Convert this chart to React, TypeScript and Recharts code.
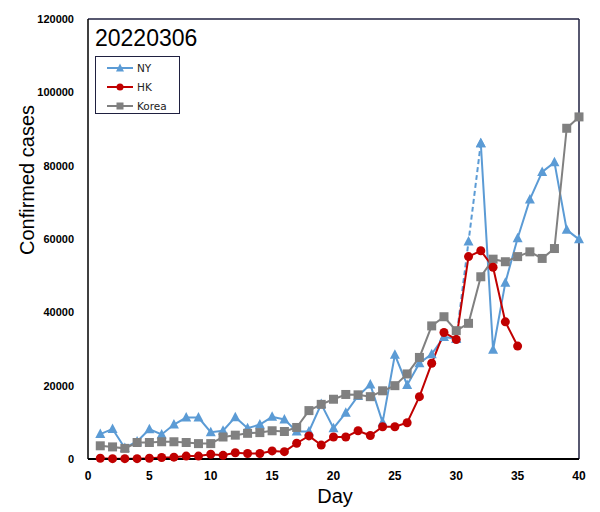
import React from 'react';
import { LineChart, Line, XAxis, YAxis, ReferenceLine } from 'recharts';

const days = [
  1, 2, 3, 4, 5, 6, 7, 8, 9, 10, 11, 12, 13, 14, 15, 16, 17, 18, 19, 20,
  21, 22, 23, 24, 25, 26, 27, 28, 29, 30, 31, 32, 33, 34, 35, 36, 37, 38, 39, 40,
];

// NY: day 31 is only reached by the dashed segment
const nyCases = [
  6800, 8200, 3000, 4800, 8100, 6700, 9400, 11300, 11300, 7300,
  7700, 11400, 8400, 9400, 11500, 10800, 7500, 7500, 15000, 8400,
  12600, 17200, 20300, 10000, 28400, 20200, 26100, 28600, 33300, 32800,
  null, 86100, 29800, 48100, 60200, 70800, 78300, 80900, 62500, 59900,
];
const nyDashed = [
  null, null, null, null, null, null, null, null, null, null,
  null, null, null, null, null, null, null, null, null, null,
  null, null, null, null, null, null, null, null, null, 32800,
  59300, 86100, null, null, null, null, null, null, null, null,
];
const hkCases = [
  200, 100, 100, 100, 200, 400, 500, 800, 800, 1300,
  1000, 1700, 1500, 1500, 2200, 2000, 4300, 6300, 3800, 6000,
  6000, 7700, 6400, 8800, 8800, 9900, 17000, 26100, 34500, 32600,
  55200, 56800, 52300, 37400, 30800, null, null, null, null, null,
];
const koreaCases = [
  3600, 3300, 2900, 4500, 4500, 4700, 4700, 4500, 4200, 4200,
  6000, 6500, 7000, 7200, 7700, 7500, 8600, 13200, 14900, 16300,
  17600, 17500, 17000, 18600, 20000, 23200, 27700, 36300, 38800, 35000,
  37000, 49700, 54500, 53800, 55200, 56500, 54700, 57400, 90200, 93300,
];

const xTicks = [0, 5, 10, 15, 20, 25, 30, 35, 40];
const yTicks = [0, 20000, 40000, 60000, 80000, 100000, 120000];

const NY_COLOR = '#5B9BD5';
const HK_COLOR = '#C00000';
const KOREA_COLOR = '#808080';
const FONT = 'Liberation Sans, Arial, sans-serif';

const data = days.map((d, i) => ({
  day: d,
  ny: nyCases[i],
  nyDash: nyDashed[i],
  hk: hkCases[i],
  korea: koreaCases[i],
}));

const Triangle = (props: any) => {
  const { cx, cy, key } = props;
  if (cx == null || cy == null || props.value == null) return <g key={key} />;
  return (
    <polygon
      key={key}
      points={`${cx},${cy - 5.5} ${cx - 5},${cy + 4} ${cx + 5},${cy + 4}`}
      fill={NY_COLOR}
    />
  );
};

const Circle = (props: any) => {
  const { cx, cy, key } = props;
  if (cx == null || cy == null || props.value == null) return <g key={key} />;
  return <circle key={key} cx={cx} cy={cy} r={4.5} fill={HK_COLOR} />;
};

const Square = (props: any) => {
  const { cx, cy, key } = props;
  if (cx == null || cy == null || props.value == null) return <g key={key} />;
  return <rect key={key} x={cx - 4.5} y={cy - 4.5} width={9} height={9} fill={KOREA_COLOR} />;
};

const legendItems = [
  { name: 'NY', color: NY_COLOR, shape: 'tri' },
  { name: 'HK', color: HK_COLOR, shape: 'circle' },
  { name: 'Korea', color: KOREA_COLOR, shape: 'square' },
];

const LegendBox = () => (
  <div
    style={{
      position: 'absolute',
      left: 95,
      top: 56,
      width: 85,
      height: 58,
      border: '1px solid #1f2040',
      background: '#fff',
      boxSizing: 'border-box',
      paddingTop: 1,
    }}
  >
    {legendItems.map((it) => (
      <div key={it.name} style={{ display: 'flex', alignItems: 'center', height: 19 }}>
        <svg width={41} height={12} style={{ display: 'block' }}>
          <line x1={11} y1={6} x2={37} y2={6} stroke={it.color} strokeWidth={2} />
          {it.shape === 'tri' && <polygon points="24,1.5 20,9.5 28,9.5" fill={it.color} />}
          {it.shape === 'circle' && <circle cx={24} cy={6} r={3.5} fill={it.color} />}
          {it.shape === 'square' && <rect x={20.5} y={2.5} width={7} height={7} fill={it.color} />}
        </svg>
        <span style={{ fontFamily: 'DejaVu Sans, sans-serif', fontSize: 10.5, lineHeight: '12px', color: '#222' }}>
          {it.name}
        </span>
      </div>
    ))}
  </div>
);

const App = () => {
  return (
    <div style={{ position: 'absolute', left: 0, top: 0, width: 600, height: 512, background: '#fff' }}>
      <LineChart
        width={600}
        height={512}
        data={data}
        margin={{ top: 19, right: 21, bottom: 23, left: 0 }}
      >
        <XAxis
          dataKey="day"
          type="number"
          domain={[0, 40]}
          ticks={xTicks}
          tickLine={false}
          axisLine={{ stroke: '#000', strokeWidth: 2 }}
          tick={{ fontSize: 12, fill: '#000', fontWeight: 'bold', fontFamily: FONT, dy: 4 }}
          height={30}
        />
        <YAxis
          type="number"
          domain={[0, 120000]}
          ticks={yTicks}
          tickLine={false}
          width={88}
          axisLine={{ stroke: '#000', strokeWidth: 1.5 }}
          tick={{ fontSize: 11, fill: '#000', fontWeight: 'bold', fontFamily: FONT }}
          tickMargin={8}
        />
        <ReferenceLine y={120000} stroke="#1f2040" strokeWidth={1.5} />
        <ReferenceLine x={40} stroke="#1f2040" strokeWidth={1.5} />
        <Line
          dataKey="nyDash"
          stroke={NY_COLOR}
          strokeWidth={2}
          strokeDasharray="5 3"
          dot={Triangle}
          activeDot={false}
          connectNulls={false}
          isAnimationActive={false}
        />
        <Line
          dataKey="ny"
          stroke={NY_COLOR}
          strokeWidth={2}
          dot={Triangle}
          activeDot={false}
          connectNulls={false}
          isAnimationActive={false}
        />
        <Line
          dataKey="korea"
          stroke={KOREA_COLOR}
          strokeWidth={2}
          dot={Square}
          activeDot={false}
          isAnimationActive={false}
        />
        <Line
          dataKey="hk"
          stroke={HK_COLOR}
          strokeWidth={2}
          dot={Circle}
          activeDot={false}
          connectNulls={false}
          isAnimationActive={false}
        />
      </LineChart>
      <LegendBox />
      <div
        style={{ position: 'absolute', left: 95, top: 25, fontFamily: FONT, fontSize: 23, lineHeight: '26px', color: '#000' }}
      >
        20220306
      </div>
      <div
        style={{
          position: 'absolute',
          left: 27 - 90,
          top: 180 - 13,
          width: 180,
          height: 26,
          lineHeight: '26px',
          textAlign: 'center',
          transform: 'rotate(-90deg)',
          fontFamily: FONT,
          fontSize: 20,
          color: '#000',
        }}
      >
        Confirmed cases
      </div>
      <div
        style={{
          position: 'absolute',
          left: 305,
          top: 484,
          width: 60,
          textAlign: 'center',
          lineHeight: '24px',
          fontFamily: FONT,
          fontSize: 20,
          color: '#000',
        }}
      >
        Day
      </div>
    </div>
  );
};

export default App;
